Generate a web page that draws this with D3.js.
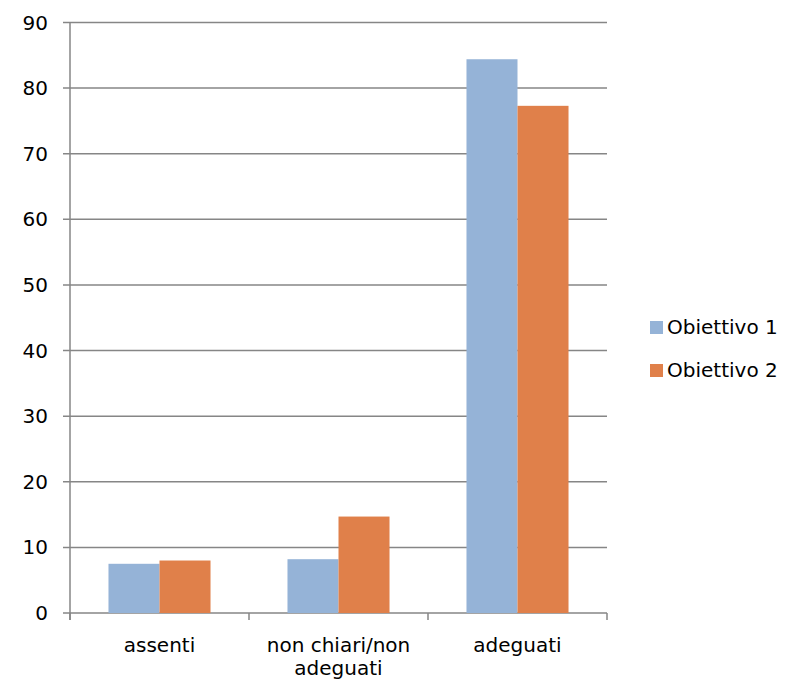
<!DOCTYPE html>
<html>
<head>
<meta charset="utf-8">
<script src="https://cdn.jsdelivr.net/npm/d3@7"></script>
<style>
  body { margin: 0; background: #fff; }
  text { font-family: "DejaVu Sans", sans-serif; fill: #000; }
</style>
</head>
<body>
<div id="canvas"></div>
<script>
// data
var categories = ['assenti', 'non chiari/non adeguati', 'adeguati'];
var labelLines = [['assenti'], ['non chiari/non', 'adeguati'], ['adeguati']];
var series = ['Obiettivo 1', 'Obiettivo 2'];
var obiettivo1 = [7.5, 8.2, 84.4];
var obiettivo2 = [8.0, 14.7, 77.3];
var yTicks = [0, 10, 20, 30, 40, 50, 60, 70, 80, 90];
var colors = ['#95b3d7', '#e0804a'];

var W = 791, H = 682;
var m = {t: 22.5, l: 70, r: 184, b: 69};
var w = W - m.l - m.r, h = H - m.t - m.b;

var svg = d3.select('#canvas').append('svg')
    .attr('width', W).attr('height', H);
var plot = svg.append('g')
    .attr('transform', 'translate(' + m.l + ',' + m.t + ')');

var scaleY = d3.scaleLinear().domain([0, 90]).range([h, 0]);
var scaleX = d3.scaleBand().domain(categories).range([0, w]);
var groupW = scaleX.bandwidth() * 0.57;
var scaleS = d3.scaleBand().domain(series).range([0, groupW]);

// gridlines
plot.selectAll('.grid').data(yTicks).enter().append('line')
    .attr('x1', -7).attr('x2', w)
    .attr('y1', function(d){ return scaleY(d); })
    .attr('y2', function(d){ return scaleY(d); })
    .attr('stroke', '#868686').attr('stroke-width', 1.5);

// y labels
plot.selectAll('.ylab').data(yTicks).enter().append('text')
    .attr('x', -22).attr('y', function(d){ return scaleY(d); })
    .attr('dy', '0.35em').attr('text-anchor', 'end')
    .style('font-size', '20px')
    .text(function(d){ return d; });

// bars
var rows = categories.map(function(c, i){ return [obiettivo1[i], obiettivo2[i]]; });
var groups = plot.selectAll('.grp').data(rows).enter().append('g')
    .attr('transform', function(d, i){
        return 'translate(' + (scaleX(categories[i]) + (scaleX.bandwidth() - groupW) / 2) + ',0)';
    });
groups.selectAll('rect').data(function(d){ return d; }).enter().append('rect')
    .attr('x', function(d, j){ return scaleS(series[j]); })
    .attr('width', scaleS.bandwidth())
    .attr('y', function(d){ return scaleY(d); })
    .attr('height', function(d){ return h - scaleY(d); })
    .attr('fill', function(d, j){ return colors[j]; });

// axes lines
plot.append('line').attr('x1', 0).attr('x2', 0).attr('y1', 0).attr('y2', h + 7)
    .attr('stroke', '#868686').attr('stroke-width', 1.5);
var xt = [0].concat(categories.map(function(c){ return scaleX(c) + scaleX.bandwidth(); }));
plot.selectAll('.xt').data(xt).enter().append('line')
    .attr('x1', function(d){ return d; }).attr('x2', function(d){ return d; })
    .attr('y1', h).attr('y2', h + 7)
    .attr('stroke', '#868686').attr('stroke-width', 1.5);

// x labels
var xl = plot.selectAll('.xl').data(labelLines).enter().append('text')
    .attr('text-anchor', 'middle')
    .style('font-size', '20px')
    .attr('transform', function(d, i){
        return 'translate(' + (scaleX(categories[i]) + scaleX.bandwidth() / 2) + ',' + (h + 39) + ')';
    });
xl.selectAll('tspan').data(function(d){ return d; }).enter().append('tspan')
    .attr('x', 0).attr('dy', function(d, j){ return j ? 23 : 0; })
    .text(function(d){ return d; });

// legend
var leg = svg.selectAll('.leg').data(series).enter().append('g')
    .attr('transform', function(d, i){ return 'translate(650,' + (327 + i * 43) + ')'; });
leg.append('rect').attr('x', 0).attr('y', -6).attr('width', 13).attr('height', 13)
    .attr('fill', function(d, i){ return colors[i]; });
leg.append('text').attr('x', 17).attr('dy', '0.35em')
    .style('font-size', '20px')
    .text(function(d){ return d; });
</script>
</body>
</html>
